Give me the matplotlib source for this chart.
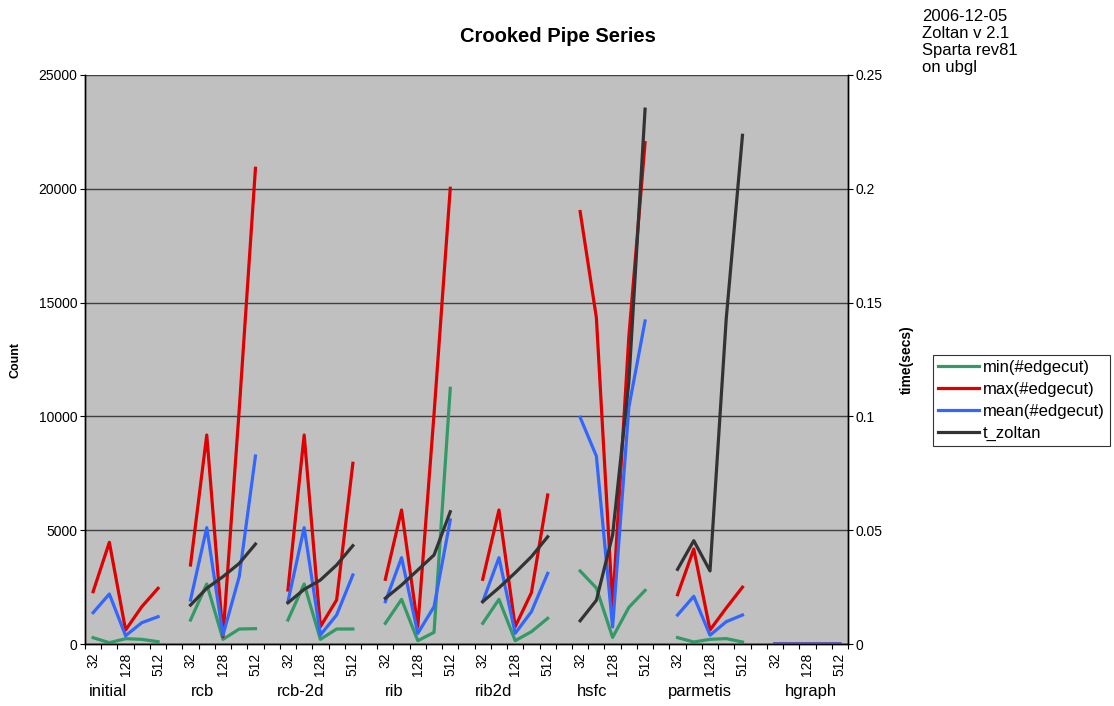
import numpy as np
import matplotlib
matplotlib.use("Agg")
import matplotlib.pyplot as plt
from matplotlib.lines import Line2D

plt.rcParams['font.family'] = ['Liberation Sans', 'DejaVu Sans']

# x axis: 8 partitioner groups, 5 part counts each
groups = ["initial", "rcb", "rcb-2d", "rib", "rib2d", "hsfc", "parmetis", "hgraph"]
sizes = ["32", "64", "128", "256", "512"]

nan = np.nan
min_edgecut = [
    [277, 57, 233, 205, 102],
    [1054, 2636, 205, 659, 674],
    [1054, 2636, 205, 659, 659],
    [908, 1962, 146, 512, 11235],
    [908, 1962, 146, 542, 1128],
    [3208, 2460, 290, 1608, 2355],
    [281, 88, 205, 237, 88],
    [0, 0, 0, 0, 0],
]
max_edgecut = [
    [2298, 4468, 615, 1640, 2447],
    [3471, 9183, 322, 10300, 20902],
    [2373, 9183, 762, 1933, 7940],
    [2843, 5888, 762, 10100, 20023],
    [2843, 5888, 762, 2256, 6547],
    [19000, 14342, 1650, 13500, 22027],
    [2166, 4174, 615, 1582, 2496],
    [0, 0, 0, 0, 0],
]
mean_edgecut = [
    [1376, 2197, 365, 936, 1200],
    [1933, 5111, 395, 2958, 8260],
    [1860, 5111, 395, 1274, 3032],
    [1860, 3793, 468, 1640, 5449],
    [1860, 3793, 468, 1420, 3105],
    [9961, 8256, 750, 10400, 14193],
    [1274, 2096, 387, 980, 1274],
    [0, 0, 0, 0, 0],
]
t_zoltan = [
    [nan, nan, nan, nan, nan],
    [0.0171, 0.0245, 0.0296, 0.0354, 0.0439],
    [0.0181, 0.0240, 0.0281, 0.0347, 0.0432],
    [0.0201, 0.0259, 0.0325, 0.0391, 0.0581],
    [0.0186, 0.0247, 0.0313, 0.0384, 0.0471],
    [0.0102, 0.0192, 0.0479, 0.115, 0.235],
    [0.0328, 0.0454, 0.0321, 0.143, 0.2235],
    [nan, nan, nan, nan, nan],
]

GREEN = "#339966"
RED = "#E00000"
BLUE = "#3366FF"
BLACK = "#333333"

ngrp = len(groups)
nsz = len(sizes)
step = nsz + 1  # one blank category between groups
ncat = ngrp * step - 1


def flatten(series):
    # put a NaN gap between groups so the lines break like in Excel
    out = np.full(ncat, np.nan)
    for g, vals in enumerate(series):
        out[g * step:g * step + nsz] = vals
    return out


x = np.arange(ncat)

fig = plt.figure(figsize=(11.14, 7.06), dpi=100)
fig.subplots_adjust(left=85 / 1114, right=848 / 1114, top=1 - 75 / 706, bottom=1 - 644 / 706)
ax = fig.add_subplot(111)
ax.set_facecolor("#C0C0C0")
ax2 = ax.twinx()

lw = 2.3
ax.plot(x, flatten(min_edgecut), color=GREEN, lw=lw, solid_joinstyle="round", zorder=3)
ax.plot(x, flatten(max_edgecut), color=RED, lw=lw, solid_joinstyle="round", zorder=4)
ax.plot(x, flatten(mean_edgecut), color=BLUE, lw=lw, solid_joinstyle="round", zorder=5)
ax2.plot(x, flatten(t_zoltan), color=BLACK, lw=lw, solid_joinstyle="round", zorder=6)

ax.set_xlim(-0.5, ncat - 0.5)
ax.set_ylim(0, 25000)
ax2.set_ylim(0, 0.25)

ax.set_yticks(np.arange(0, 25001, 5000))
ax2.set_yticks(np.arange(0, 0.2501, 0.05))
ax2.set_yticklabels(["0", "0.05", "0.1", "0.15", "0.2", "0.25"])
ax.yaxis.grid(True, color="#404040", lw=1.0)
ax.set_axisbelow(True)

# tick marks between categories, labels at category centres (every other one shown)
ax.set_xticks(np.arange(-0.5, ncat, 1.0), minor=True)
lab_pos, lab_txt = [], []
for g in range(ngrp):
    for j in range(0, nsz, 2):
        lab_pos.append(g * step + j)
        lab_txt.append(sizes[j])
ax.set_xticks(lab_pos)
ax.set_xticklabels(lab_txt, rotation=90, fontsize=10)
ax.tick_params(axis="x", which="major", length=0, pad=6)
ax.tick_params(axis="x", which="minor", length=3.5, width=0.8, direction="out")
ax.tick_params(axis="y", labelsize=10, length=3.5, width=0.8, direction="out", pad=2)
ax2.tick_params(axis="y", labelsize=10, length=3.5, width=0.8, direction="out", pad=2)

# group names under the size labels
grp_x = [0.92, 6.71, 12.81, 18.54, 24.65, 30.74, 37.4, 44.24]
for gx, name in zip(grp_x, groups):
    ax.text(gx, -0.083, name, transform=ax.get_xaxis_transform(), ha="center", va="center",
            fontsize=12)

for a in (ax, ax2):
    a.spines["top"].set_visible(False)
    for s in ("left", "right", "bottom"):
        a.spines[s].set_color("black")
        a.spines[s].set_linewidth(1.0)

ax.set_ylabel("Count", fontsize=9, fontweight="bold", labelpad=12)
ax2.set_ylabel("time(secs)", fontsize=10, fontweight="bold", labelpad=12)

fig.text(558 / 1114, 1 - 36 / 706, "Crooked Pipe Series", ha="center", va="center",
         fontsize=14.5, fontweight="bold")
fig.text(922 / 1114, 1 - 9 / 706, "2006-12-05\nZoltan v 2.1\nSparta rev81\non ubgl",
         ha="left", va="top", fontsize=12, linespacing=1.17)

handles = [Line2D([], [], color=c, lw=lw) for c in (GREEN, RED, BLUE, BLACK)]
leg = fig.legend(handles, ["min(#edgecut)", "max(#edgecut)", "mean(#edgecut)", "t_zoltan"],
                 loc="upper left", bbox_to_anchor=(933 / 1114, 1 - 355 / 706),
                 fontsize=12, frameon=True, fancybox=False, shadow=False,
                 handlelength=2.45, handletextpad=0.25, labelspacing=0.42,
                 borderpad=0.3, borderaxespad=0)
leg.get_frame().set_edgecolor("black")
leg.get_frame().set_linewidth(0.8)

fig.savefig("out.png", dpi=100)
